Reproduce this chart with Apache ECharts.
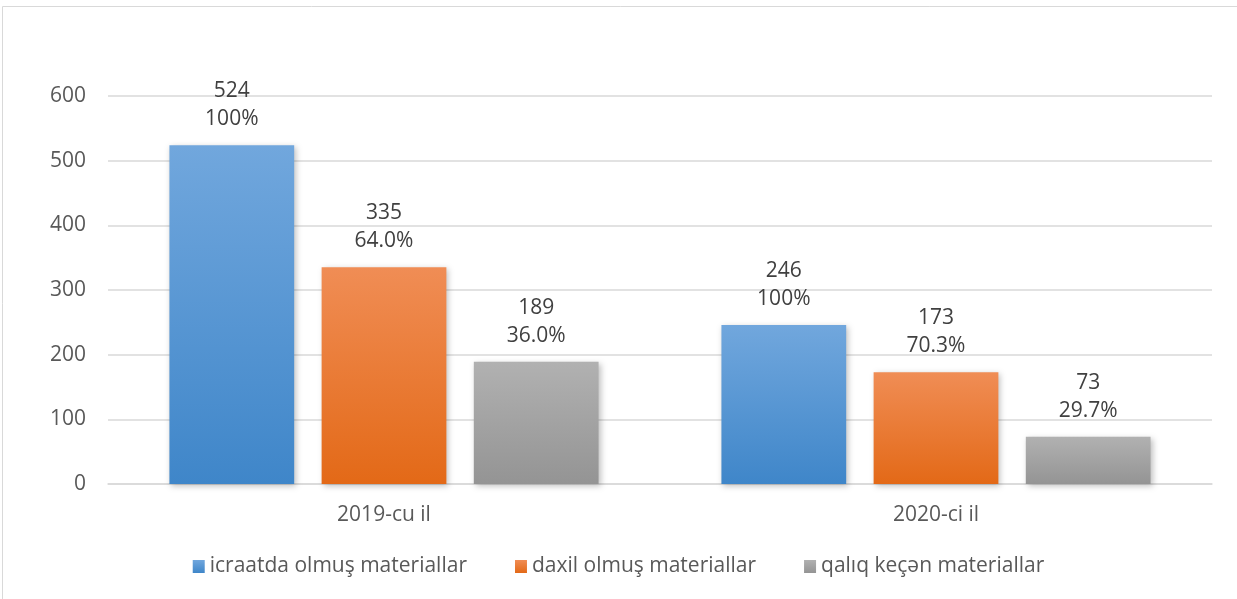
<!DOCTYPE html>
<html><head><meta charset="utf-8">
<script src="https://cdn.jsdelivr.net/npm/echarts@6/dist/echarts.min.js"></script>
<style>html,body{margin:0;padding:0;background:#fff}#c{width:1237px;height:599px}</style>
</head><body><div id="c"></div>
<script>
const categories = ['2019-cu il', '2020-ci il'];
const seriesNames = ['icraatda olmuş materiallar', 'daxil olmuş materiallar', 'qalıq keçən materiallar'];
const icraatda = [524, 246];
const daxil = [335, 173];
const qaliq = [189, 73];
const icraatdaPct = ['100%', '100%'];
const daxilPct = ['64.0%', '70.3%'];
const qaliqPct = ['36.0%', '29.7%'];
const yTicks = [0, 100, 200, 300, 400, 500, 600];

const font = '"Open Sans", sans-serif';
const grads = [
  ['#71a7dd', '#3f86c9'],
  ['#f08d55', '#e36917'],
  ['#b1b1b1', '#949494']
];
const values = [icraatda, daxil, qaliq];
const pcts = [icraatdaPct, daxilPct, qaliqPct];

const chart = echarts.init(document.getElementById('c'));
chart.setOption({
  animation: false,
  graphic: [{type: 'rect', shape: {x: 2.5, y: 6.5, width: 1300, height: 700}, style: {fill: 'none', stroke: '#d9d9d9', lineWidth: 1}, silent: true}],
  grid: {left: 108, right: 25, top: 96, bottom: 115, containLabel: false},
  legend: {
    bottom: 17, left: 'center', itemWidth: 12, itemHeight: 13, itemGap: 48,
    icon: 'rect',
    textStyle: {fontFamily: font, fontSize: 21, color: '#595959', padding: [0, 0, 0, 0]},
    data: seriesNames
  },
  xAxis: {
    type: 'category', data: categories,
    axisLine: {lineStyle: {color: '#d9d9d9', width: 1.5}},
    axisTick: {show: false},
    axisLabel: {fontFamily: font, fontSize: 21, color: '#595959', margin: 21}
  },
  yAxis: {
    type: 'value', min: yTicks[0], max: yTicks[yTicks.length - 1], interval: 100,
    axisLine: {show: false}, axisTick: {show: false},
    splitLine: {lineStyle: {color: '#d9d9d9', width: 1.5}},
    axisLabel: {fontFamily: font, fontSize: 21, color: '#595959', margin: 22}
  },
  series: seriesNames.map((name, i) => ({
    name, type: 'bar', barWidth: '22.6%', barGap: '22%',
    data: values[i],
    itemStyle: {
      color: new echarts.graphic.LinearGradient(0, 0, 0, 1, [{offset: 0, color: grads[i][0]}, {offset: 1, color: grads[i][1]}]),
      shadowColor: 'rgba(0,0,0,0.25)', shadowBlur: 6, shadowOffsetX: 2, shadowOffsetY: 2
    },
    label: {
      show: true, position: 'top', distance: 12,
      fontFamily: font, fontSize: 21, color: '#404040', lineHeight: 28, align: 'center',
      formatter: p => p.value + '\n' + pcts[i][p.dataIndex]
    }
  }))
});
</script></body></html>
